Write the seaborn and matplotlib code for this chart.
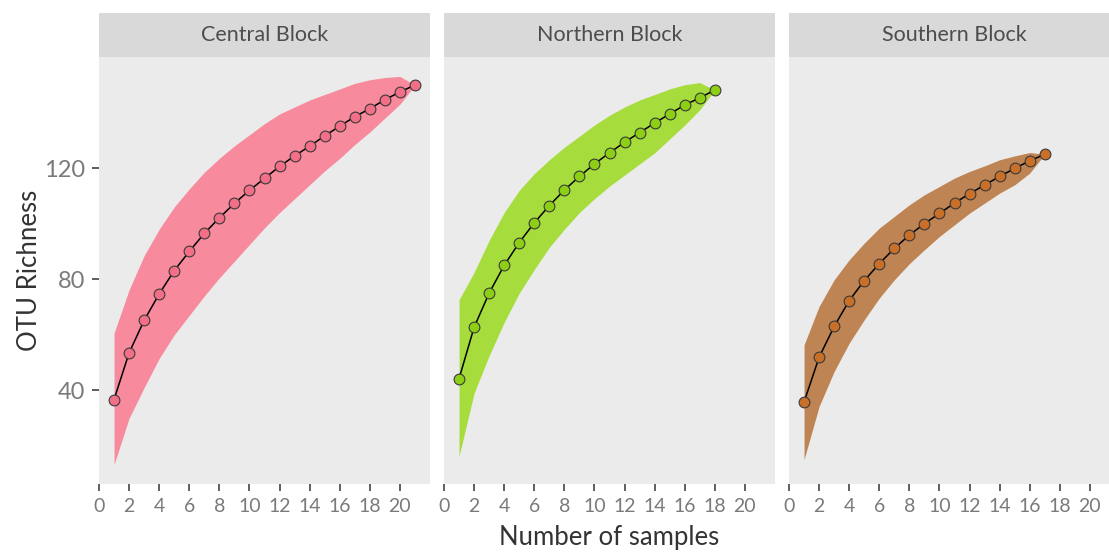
import numpy as np
import pandas as pd
import matplotlib
matplotlib.use("Agg")
import matplotlib.pyplot as plt
import seaborn as sns

sns.set_theme(style="white")
plt.rcParams["font.family"] = ["Lato", "DejaVu Sans"]

# Rarefaction curves per block: mean richness and the band around it
blocks = ["Central Block", "Northern Block", "Southern Block"]

central_mean = [36.7, 53.5, 65.2, 74.7, 83.1, 90.0, 96.5, 102.1, 107.3, 112.0, 116.3,
                120.6, 124.4, 127.9, 131.6, 135.1, 138.5, 141.4, 144.6, 147.4, 149.9]
central_lo = [13.3, 30.0, 41.0, 51.5, 60.0, 67.0, 74.0, 80.5, 86.5, 92.5, 98.5,
              104.0, 109.0, 114.0, 119.0, 123.5, 128.5, 133.0, 138.0, 143.0, 149.9]
central_hi = [60.6, 76.2, 88.5, 98.0, 106.0, 112.5, 118.5, 123.5, 128.0, 132.0, 136.0,
              139.5, 142.0, 144.5, 146.5, 148.5, 150.5, 151.8, 152.6, 153.0, 149.9]

northern_mean = [44.2, 62.7, 75.0, 85.0, 93.2, 100.3, 106.5, 112.1, 117.0, 121.5,
                 125.5, 129.3, 132.8, 136.2, 139.5, 142.7, 145.3, 148.1]
northern_lo = [16.3, 39.0, 52.5, 64.5, 75.0, 83.5, 91.5, 98.0, 104.0, 109.0,
               113.5, 117.5, 121.5, 125.5, 130.5, 135.5, 141.0, 148.1]
northern_hi = [72.6, 82.5, 94.0, 104.0, 112.0, 118.0, 123.0, 127.5, 131.5, 135.5,
               139.0, 142.0, 144.5, 146.5, 148.5, 150.0, 150.8, 148.1]

southern_mean = [35.8, 51.9, 63.0, 72.3, 79.5, 85.6, 91.1, 95.9, 100.0, 103.7,
                 107.4, 110.8, 113.9, 117.0, 119.9, 122.6, 125.0]
southern_lo = [15.1, 34.2, 46.8, 57.0, 65.4, 73.2, 79.8, 85.6, 90.6, 95.4,
               99.6, 103.8, 107.4, 111.0, 114.0, 118.2, 125.0]
southern_hi = [56.4, 70.2, 79.8, 87.0, 93.0, 98.4, 102.6, 106.8, 110.4, 113.4,
               116.4, 118.8, 120.8, 123.0, 124.4, 125.6, 125.0]

band_colors = ["#F78A9C", "#A6DD3C", "#BF8454"]
point_colors = ["#F26F87", "#8DCF14", "#C96F28"]

x_ticks = list(range(0, 21, 2))
y_ticks = [40, 80, 120]

series = [
    (central_mean, central_lo, central_hi),
    (northern_mean, northern_lo, northern_hi),
    (southern_mean, southern_lo, southern_hi),
]

W, H = 1109, 552
fig = plt.figure(figsize=(W / 100, H / 100), dpi=100)
fig.patch.set_facecolor("white")

panel_left = [99, 444, 789]
panel_w = 331
panel_top, panel_bottom = 56.7, 484
strip_top = 13.3

tick_gray = "#7A7A7A"
text_dark = "#333333"

for i, (name, (mean, lo, hi)) in enumerate(zip(blocks, series)):
    df = pd.DataFrame({"samples": np.arange(1, len(mean) + 1),
                       "richness": mean, "lo": lo, "hi": hi})
    ax = fig.add_axes([panel_left[i] / W, 1 - panel_bottom / H,
                       panel_w / W, (panel_bottom - panel_top) / H])
    ax.set_facecolor("#EBEBEB")
    ax.fill_between(df["samples"], df["lo"], df["hi"], color=band_colors[i],
                    linewidth=0, zorder=1)
    sns.lineplot(data=df, x="samples", y="richness", ax=ax, color="black",
                 linewidth=1.1, zorder=2, legend=False)
    sns.scatterplot(data=df, x="samples", y="richness", ax=ax,
                    color=point_colors[i], edgecolor="#3A3A3A", linewidth=0.8,
                    s=60, zorder=3, legend=False)
    ax.set_xlim(0, 22)
    ax.set_ylim(6.3, 160.1)
    ax.set_xticks(x_ticks)
    ax.set_xticklabels([str(t) for t in x_ticks])
    ax.set_xlabel("")
    ax.set_ylabel("")
    for s in ax.spines.values():
        s.set_visible(False)
    ax.tick_params(axis="x", length=5, width=1.1, color=text_dark, pad=5,
                   labelsize=14, labelcolor=tick_gray, bottom=True)
    if i == 0:
        ax.set_yticks(y_ticks)
        ax.set_yticklabels([str(t) for t in y_ticks])
        ax.tick_params(axis="y", length=5, width=1.1, color=text_dark, pad=5,
                       labelsize=17, labelcolor=tick_gray, left=True)
    else:
        ax.set_yticks([])
    ax.grid(False)

    # facet strip
    sax = fig.add_axes([panel_left[i] / W, 1 - panel_top / H,
                        panel_w / W, (panel_top - strip_top) / H])
    sax.set_facecolor("#D9D9D9")
    sax.set_xticks([])
    sax.set_yticks([])
    for s in sax.spines.values():
        s.set_visible(False)
    sax.text(0.5, 0.5, name, ha="center", va="center", fontsize=15.5,
             color="#4D4D4D", transform=sax.transAxes)

fig.text(609 / W, 1 - 537 / H, "Number of samples", ha="center", va="center",
         fontsize=18.5, color=text_dark)
fig.text(30 / W, 1 - 270 / H, "OTU Richness", ha="center", va="center",
         rotation=90, fontsize=18.5, color=text_dark)

fig.savefig("out.png", dpi=100)
